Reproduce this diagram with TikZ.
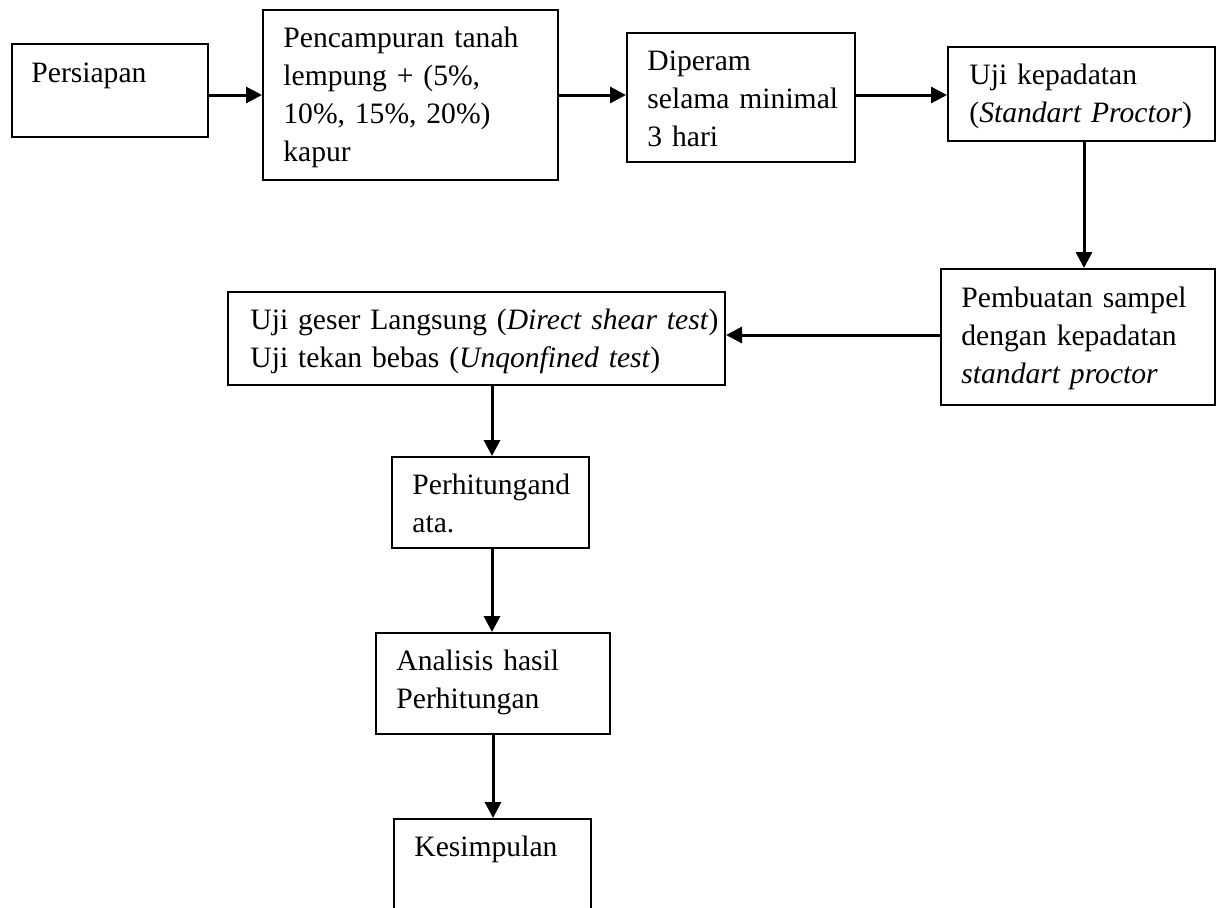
\documentclass[tikz,border=0pt]{standalone}
\usepackage{fontspec}
\setmainfont{Liberation Serif}
\usetikzlibrary{arrows.meta,calc}
\tikzset{
  box/.style={draw, line width=1pt, inner sep=0pt, anchor=north west},
  txt/.style={anchor=base west, inner sep=0pt, text width=300pt, align=left,
    font=\fontsize{14.8}{19}\selectfont},
  arr/.style={line width=1.5pt, -{Triangle[length=8pt,width=8pt]}}
}
\begin{document}
\begin{tikzpicture}[x=0.5pt,y=-0.5pt]
\useasboundingbox (0,0) rectangle (1216,907);
\fill[white] (0,0) rectangle (1216,907);
\clip (0,0) rectangle (1216,907);
% boxes
\node[box, minimum width=98pt, minimum height=46.5pt] (persiapan) at (11,43) {};
\node[box, minimum width=147.5pt, minimum height=85pt] (pencampuran) at (262,9) {};
\node[box, minimum width=114pt, minimum height=64.5pt] (diperam) at (626,32) {};
\node[box, minimum width=133.5pt, minimum height=47pt] (ujikepadatan) at (947,46) {};
\node[box, minimum width=137pt, minimum height=68pt] (pembuatan) at (940,268) {};
\node[box, minimum width=248.5pt, minimum height=46.5pt] (ujigeser) at (227,291) {};
\node[box, minimum width=98.5pt, minimum height=45.5pt] (perhitungan) at (391,456) {};
\node[box, minimum width=117pt, minimum height=50.5pt] (analisis) at (375,632) {};
\node[box, minimum width=98.5pt, minimum height=60pt] (kesimpulan) at (393,818) {};
% texts
\node[txt] (tpersiapan) at ($(persiapan.north west)+(20,39)$) {Persiapan};
\node[txt] (tpencampuran) at ($(pencampuran.north west)+(21,38)$) {Pencampuran tanah\\ lempung + (5\%,\\ 10\%, 15\%, 20\%)\\ kapur};
\node[txt] (tdiperam) at ($(diperam.north west)+(21,38)$) {Diperam\\ selama minimal\\ 3 hari};
\node[txt] (tujikepadatan) at ($(ujikepadatan.north west)+(22,38)$) {Uji kepadatan\\ (\textit{Standart Proctor})};
\node[txt] (tpembuatan) at ($(pembuatan.north west)+(21,39)$) {Pembuatan sampel\\ dengan kepadatan\\ \textit{standart proctor}};
\node[txt] (tujigeser) at ($(ujigeser.north west)+(23,38)$) {Uji geser Langsung (\textit{Direct shear test})\\ Uji tekan bebas (\textit{Unqonfined test})};
\node[txt] (tperhitungan) at ($(perhitungan.north west)+(21,38)$) {Perhitungand\\ ata.};
\node[txt] (tanalisis) at ($(analisis.north west)+(21,38)$) {Analisis hasil\\ Perhitungan};
\node[txt] (tkesimpulan) at ($(kesimpulan.north west)+(21,38)$) {Kesimpulan};
% connector guides
\coordinate (rowA) at (0,95);
\coordinate (rowB) at (0,335);
\coordinate (colA) at (1084,0);
\coordinate (colB) at (492,0);
\coordinate (colC) at (493,0);
% connectors
\draw[arr] (persiapan.east |- rowA) -- (pencampuran.west |- rowA);
\draw[arr] (pencampuran.east |- rowA) -- (diperam.west |- rowA);
\draw[arr] (diperam.east |- rowA) -- (ujikepadatan.west |- rowA);
\draw[arr] (ujikepadatan.south -| colA) -- (pembuatan.north -| colA);
\draw[arr] (pembuatan.west |- rowB) -- (ujigeser.east |- rowB);
\draw[arr] (ujigeser.south -| colB) -- (perhitungan.north -| colB);
\draw[arr] (perhitungan.south -| colB) -- (analisis.north -| colB);
\draw[arr] (analisis.south -| colC) -- (kesimpulan.north -| colC);
\end{tikzpicture}
\end{document}
